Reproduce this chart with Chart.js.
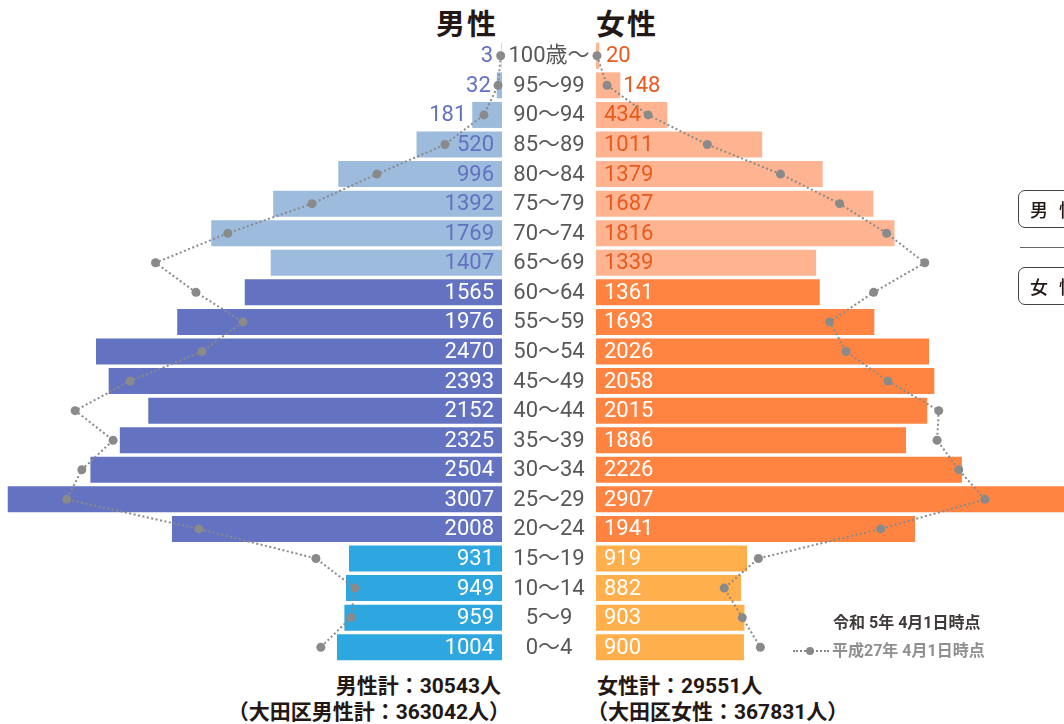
<!DOCTYPE html>
<html>
<head>
<meta charset="utf-8">
<script src="https://cdn.jsdelivr.net/npm/chart.js@4.4.1/dist/chart.umd.min.js"></script>
<style>
  html, body { margin: 0; padding: 0; background: #fff; width: 1064px; height: 724px; overflow: hidden; }
  body { position: relative; font-family: Roboto, "Noto Sans CJK JP", sans-serif; color: #231815; }
  #maleWrap { position: absolute; left: 0; top: 41px; width: 596px; height: 621px; }
  #femaleWrap { position: absolute; left: 586px; top: 41px; width: 478px; height: 621px; }
  .title { position: absolute; top: 6px; font: 700 29px "Noto Sans CJK JP"; letter-spacing: 2px; line-height: 32px; white-space: nowrap; }
  .total { position: absolute; font: 700 21px Roboto, "Noto Sans CJK JP"; line-height: 24px; white-space: nowrap; color: #231815; }
  .note { position: absolute; font: 700 16px Roboto, "Noto Sans CJK JP"; line-height: 20px; white-space: nowrap; }
  .sample { position: absolute; left: 793px; top: 650px; width: 36px; border-top: 2px dotted #888; }
  .sample i { position: absolute; left: 13px; top: -5px; width: 8px; height: 8px; border-radius: 50%; background: #888; }
  .box { position: absolute; left: 1018px; width: 80px; height: 38px; border: 1.5px solid #444; border-radius: 7px; box-sizing: border-box;
         font: 500 18px "Noto Sans CJK JP"; letter-spacing: 11px; line-height: 36px; padding-left: 11px; color: #231815; }
  .rule { position: absolute; left: 1020px; top: 247px; width: 60px; border-top: 1px solid #666; }
</style>
</head>
<body>
<div class="title" style="right:566px">男性</div>
<div class="title" style="left:596px">女性</div>

<div id="maleWrap"><canvas id="maleChart" width="596" height="621"></canvas></div>
<div id="femaleWrap"><canvas id="femaleChart" width="478" height="621"></canvas></div>

<div class="total" style="right:563px; top:674px">男性計：30543人</div>
<div class="total" style="right:554px; top:700px">（大田区男性計：363042人）</div>
<div class="total" style="left:597px; top:674px">女性計：29551人</div>
<div class="total" style="left:587px; top:700px">（大田区女性：367831人）</div>

<div class="note" style="left:833px; top:613px; color:#3e3a39">令和 5年 4月1日時点</div>
<div class="sample"><i></i></div>
<div class="note" style="left:832px; top:641px; color:#8f8f8f">平成27年 4月1日時点</div>

<div class="box" style="top:190px">男性</div>
<div class="rule"></div>
<div class="box" style="top:267px">女性</div>

<script>
const ages = ['100歳〜', '95〜99', '90〜94', '85〜89', '80〜84', '75〜79', '70〜74', '65〜69',
  '60〜64', '55〜59', '50〜54', '45〜49', '40〜44', '35〜39', '30〜34', '25〜29', '20〜24',
  '15〜19', '10〜14', '5〜9', '0〜4'];

// 令和5年4月1日時点
const maleNow = [3, 32, 181, 520, 996, 1392, 1769, 1407, 1565, 1976, 2470, 2393, 2152, 2325, 2504, 3007, 2008, 931, 949, 959, 1004];
const femaleNow = [20, 148, 434, 1011, 1379, 1687, 1816, 1339, 1361, 1693, 2026, 2058, 2015, 1886, 2226, 2907, 1941, 919, 882, 903, 900];

// 平成27年4月1日時点
const maleOld = [8, 24, 110, 347, 761, 1156, 1668, 2108, 1862, 1576, 1825, 2263, 2597, 2366, 2556, 2648, 1844, 1132, 895, 919, 1102];
const femaleOld = [6, 67, 317, 677, 1122, 1482, 1768, 2000, 1689, 1421, 1521, 1776, 2085, 2075, 2207, 2366, 1732, 988, 780, 890, 1000];

const maleColors = { old: '#9dbbdc', mid: '#6473c1', young: '#2ea7e0' };
const femaleColors = { old: '#ffb491', mid: '#ff8441', young: '#ffaf4b' };

function groupColor(c) {
  return ages.map((a, i) => i <= 7 ? c.old : (i <= 16 ? c.mid : c.young));
}

const valueFont = '22px Roboto, "Noto Sans CJK JP"';

function labelPlugin(side, textColor) {
  return {
    id: 'valueLabels' + side,
    afterDatasetDraw(chart, args) {
      if (args.index !== 0) return;
      const ctx = chart.ctx;
      const data = chart.data.datasets[0].data;
      ctx.save();
      ctx.font = valueFont;
      ctx.textBaseline = 'middle';
      args.meta.data.forEach((bar, i) => {
        const txt = String(data[i]);
        const w = ctx.measureText(txt).width;
        const len = Math.abs(bar.x - bar.base);
        const fits = len >= w + 16;
        ctx.fillStyle = (i <= 7) ? textColor : '#ffffff';
        if (side === 'male') {
          ctx.textAlign = 'right';
          ctx.fillText(txt, fits ? bar.base - 8 : Math.min(bar.x - 6, bar.base - 9), bar.y + 1);
        } else {
          ctx.textAlign = 'left';
          ctx.fillText(txt, fits ? bar.base + 8 : Math.max(bar.x + 3, bar.base + 10), bar.y + 1);
        }
      });
      ctx.restore();
    }
  };
}

const agePlugin = {
  id: 'ageLabels',
  afterDraw(chart) {
    const ctx = chart.ctx;
    const y = chart.scales.y;
    ctx.save();
    ctx.font = valueFont;
    ctx.fillStyle = '#595757';
    ctx.textAlign = 'center';
    ctx.textBaseline = 'middle';
    ages.forEach((a, i) => {
      ctx.fillText(a, chart.chartArea.right + 47, y.getPixelForValue(i) + 1);
    });
    ctx.restore();
  }
};

function makeChart(id, now, old, colors, reverse, max, padding, plugins) {
  return new Chart(document.getElementById(id), {
    type: 'bar',
    data: {
      labels: ages,
      datasets: [{
        data: now,
        backgroundColor: groupColor(colors),
        categoryPercentage: 1,
        barPercentage: 0.88,
        order: 2
      }, {
        type: 'line',
        data: old,
        borderColor: '#8a8a8a',
        borderWidth: 2,
        borderDash: [2, 2.5],
        pointRadius: 4.5,
        pointBackgroundColor: '#8a8a8a',
        pointBorderWidth: 0,
        tension: 0,
        fill: false,
        clip: false,
        order: 1
      }]
    },
    options: {
      indexAxis: 'y',
      responsive: false,
      animation: false,
      layout: { padding: padding, autoPadding: false },
      plugins: { legend: { display: false }, tooltip: { enabled: false } },
      scales: {
        x: { display: false, reverse: reverse, min: 0, max: max },
        y: { display: false }
      }
    },
    plugins: plugins
  });
}

makeChart('maleChart', maleNow, maleOld, maleColors, true, 3054,
  { left: 0, right: 94, top: 0, bottom: 0 }, [labelPlugin('male', '#6272c0'), agePlugin]);
makeChart('femaleChart', femaleNow, femaleOld, femaleColors, false, 2847,
  { left: 10, right: 0, top: 0, bottom: 0 }, [labelPlugin('female', '#e95a1c')]);
</script>
</body>
</html>
